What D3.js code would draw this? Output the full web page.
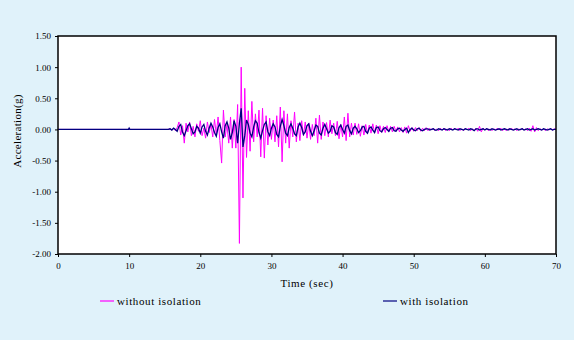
<!DOCTYPE html>
<html><head><meta charset="utf-8">
<script src="https://cdn.jsdelivr.net/npm/d3@7"></script>
<style>
html,body{margin:0;padding:0;background:#e0f2fa;}
svg{display:block;}
</style></head>
<body>
<svg id="chart" width="574" height="340"></svg>
<script>
// ---- data ----
const xTicks = [0, 10, 20, 30, 40, 50, 60, 70];
const yTicks = [1.5, 1.0, 0.5, 0.0, -0.5, -1.0, -1.5, -2.0];
const yTickLabels = ["1.50", "1.00", "0.50", "0.00", "-0.50", "-1.00", "-1.50", "-2.00"];
const seriesNames = ["without isolation", "with isolation"];

const leadTimes = [0, 9.9, 10.0, 10.1, 15.25];
const leadWithout = [0, 0, 0, 0, 0];
const leadWith = [0, 0, 0.02, 0, 0];

const sampleStart = 15.5, sampleStep = 0.25; // sampling grid of the record

const withoutIsolation = [
  0, 0.01, -0.01, 0.02, -0.02, 0.03,
  0.12, -0.09, 0.06, -0.22,
  0.1, -0.04, 0.12, -0.1,
  0.05, -0.12, 0.09, -0.03,
  0.14, -0.1, 0.02, -0.14,
  0.12, -0.05, 0.08, -0.12,
  0.16, -0.08, 0.2, -0.18,
  -0.54, 0.31, -0.12, 0.08,
  -0.22, 0.2, -0.3, 0.16,
  -0.3, 0.4, -1.83, 1.0,
  -1.1, 0.66, -0.45, 0.3,
  -0.35, 0.45, -0.2, 0.25,
  -0.12, 0.31, -0.44, 0.34,
  -0.46, 0.22, -0.25, 0.18,
  -0.16, 0.15, -0.2, 0.22,
  -0.28, 0.36, -0.52, 0.3,
  -0.22, 0.25, -0.3, 0.14,
  -0.12, 0.28, -0.2, 0.1,
  -0.18, 0.14, -0.1, 0.12,
  -0.14, 0.1, -0.16, 0.08,
  -0.1, 0.18, -0.22, 0.23,
  -0.16, 0.12, -0.1, 0.11,
  -0.12, 0.15, -0.07, 0.1,
  -0.1, 0.13, -0.15, 0.08,
  -0.12, 0.2, -0.18, 0.26,
  -0.12, 0.1, -0.09, 0.1,
  -0.08, 0.09, -0.11, 0.06,
  -0.09, 0.08, -0.07, 0.07,
  -0.06, 0.09, -0.06, 0.07,
  -0.07, 0.06, -0.05, 0.05,
  -0.05, 0.06, -0.04, 0.05,
  -0.04, 0.05, -0.03, 0.04,
  -0.04, 0.03, -0.05, 0.04,
  -0.06, 0.06, -0.03, 0.03,
  -0.03, 0.03, -0.02, 0.03,
  -0.03, 0.02, -0.02, 0.03,
  -0.02, 0.02, -0.01, 0.02,
  -0.02, 0.01, -0.02, 0.02,
  -0.01, 0.02, -0.02, 0.01,
  -0.02, 0.02, -0.01, 0.02,
  -0.01, 0.02, -0.02, 0.01,
  -0.02, 0.02, -0.01, 0.02,
  -0.02, 0.01, -0.02, 0.02,
  -0.03, 0.05, -0.04, 0.02,
  -0.01, 0.02, -0.02, 0.01,
  -0.02, 0.01, -0.01, 0.02,
  -0.01, 0.02, -0.02, 0.01,
  -0.02, 0.01, -0.01, 0.02,
  -0.01, 0.01, -0.02, 0.01,
  -0.01, 0.02, -0.01, 0.01,
  -0.02, 0.02, -0.03, 0.06,
  -0.04, 0.03, -0.02, 0.01,
  -0.01, 0.01, -0.02, 0.01,
  -0.01, 0.01, -0.01, 0.01,
  0
];

const withIsolation = [
  0.0, 0.01, -0.01, 0.02, 0.0, -0.03,
  0.05, 0.08, -0.04, -0.1,
  -0.02, 0.06, 0.09, 0.01,
  -0.07, -0.04, 0.05, 0.02,
  -0.06, 0.04, 0.08, -0.03,
  -0.09, 0.02, 0.1, 0.04,
  -0.05, -0.11, 0.03, 0.09,
  -0.04, -0.14, 0.06, 0.12,
  0.02, -0.16, -0.05, 0.14,
  0.05, -0.22, 0.1, 0.34,
  -0.28, -0.1, 0.15, 0.08,
  -0.06, -0.12, 0.04, 0.14,
  0.1, -0.05, -0.14, -0.02,
  0.08, 0.12, -0.04, -0.1,
  0.02, 0.09, 0.04, -0.08,
  -0.12, 0.05, 0.16, 0.06,
  -0.06, -0.1, 0.03, 0.09,
  0.02, -0.07, -0.1, 0.04,
  0.1, 0.03, -0.08, -0.04,
  0.06, 0.09, -0.03, -0.1,
  -0.02, 0.07, 0.05, -0.06,
  -0.09, 0.02, 0.08, 0.01,
  -0.06, -0.03, 0.06, 0.04,
  -0.05, -0.08, 0.03, 0.07,
  0.0, -0.06, 0.05, 0.07,
  -0.02, -0.07, 0.02, 0.05,
  0.01, -0.05, -0.02, 0.04,
  0.05, -0.03, -0.06, 0.02,
  0.04, -0.01, -0.05, 0.03,
  0.04, -0.02, -0.04, 0.01,
  0.03, 0.0, -0.03, 0.02,
  0.03, -0.02, -0.03, 0.01,
  0.02, -0.01, -0.03, 0.0,
  0.02, -0.05, 0.0, 0.02,
  -0.01, -0.02, 0.01, 0.02,
  -0.01, -0.02, 0.0, 0.01,
  0.01, -0.01, 0.0, 0.01,
  -0.01, -0.01, 0.01, 0.0,
  -0.01, 0.01, 0.0, -0.01,
  0.01, 0.0, -0.01, 0.01,
  0.0, -0.01, 0.01, 0.0,
  -0.01, 0.01, 0.0, -0.01,
  0.01, 0.0, -0.02, 0.01,
  0.01, -0.01, 0.0, 0.01,
  -0.01, 0.01, 0.0, -0.01,
  0.01, 0.0, -0.01, 0.0,
  0.01, -0.01, 0.0, 0.01,
  0.0, -0.01, 0.01, 0.0,
  -0.01, 0.0, 0.01, -0.01,
  0.0, 0.01, -0.01, 0.0,
  0.01, -0.01, 0.0, 0.01,
  -0.01, 0.0, 0.01, 0.0,
  -0.01, 0.01, 0.0, -0.01,
  0.0, 0.01, -0.01, 0.0,
  0
];

// ---- layout ----
const FONT = "'Liberation Serif', 'DejaVu Serif', serif";
const svg = d3.select("#chart");
const W = 574, H = 340;
const m = {left: 58, right: 18, top: 36, bottom: 86};
const pw = W - m.left - m.right, ph = H - m.top - m.bottom;

svg.append("rect").attr("width", W).attr("height", H).attr("fill", "#e0f2fa");

const x = d3.scaleLinear().domain([0, 70]).range([m.left, m.left + pw]);
const y = d3.scaleLinear().domain([-2.0, 1.5]).range([m.top + ph, m.top]);

svg.append("rect").attr("x", m.left).attr("y", m.top).attr("width", pw).attr("height", ph)
  .attr("fill", "#fff");

function build(lead, vals) {
  const pts = lead.map((v, i) => [leadTimes[i], v]);
  vals.forEach((v, i) => pts.push([sampleStart + i * sampleStep, v]));
  return pts;
}
const line = d3.line().x(d => x(d[0])).y(d => y(d[1]));
const colors = ["#ff00ff", "#000080"];

const g = svg.append("g");
g.append("path").datum(build(leadWithout, withoutIsolation))
  .attr("d", line).attr("fill", "none").attr("stroke", colors[0]).attr("stroke-width", 1);
g.append("path").datum(build(leadWith, withIsolation))
  .attr("d", line).attr("fill", "none").attr("stroke", colors[1]).attr("stroke-width", 1.3);

// frame
svg.append("rect").attr("x", m.left).attr("y", m.top).attr("width", pw).attr("height", ph)
  .attr("fill", "none").attr("stroke", "#000").attr("stroke-width", 1.5);

// y axis
const yAxis = d3.axisLeft(y).tickValues(yTicks).tickSize(3)
  .tickFormat((d, i) => yTickLabels[i]);
const ya = svg.append("g").attr("transform", `translate(${m.left},0)`).call(yAxis)
  .attr("font-family", FONT);
ya.select(".domain").remove();
ya.selectAll("text").attr("font-size", 9).attr("x", -7);

// x axis
const xAxis = d3.axisBottom(x).tickValues(xTicks).tickSize(3).tickFormat(d3.format("d"));
const xa = svg.append("g").attr("transform", `translate(0,${m.top + ph})`).call(xAxis)
  .attr("font-family", FONT);
xa.select(".domain").remove();
xa.selectAll("text").attr("font-size", 9).attr("y", 9);

// axis titles
svg.append("text").attr("x", 307).attr("y", 287).attr("text-anchor", "middle")
  .attr("font-family", FONT).attr("font-size", 11).attr("letter-spacing", 0.6)
  .text("Time (sec)");
svg.append("text").attr("transform", "translate(21,131) rotate(-90)")
  .attr("text-anchor", "middle").attr("font-family", FONT).attr("font-size", 11)
  .attr("letter-spacing", 0.3).text("Acceleration(g)");

// legend
const legX = [100, 383];
seriesNames.forEach((n, i) => {
  svg.append("line").attr("x1", legX[i]).attr("x2", legX[i] + 14)
    .attr("y1", 301).attr("y2", 301).attr("stroke", colors[i]).attr("stroke-width", 1.2);
  svg.append("text").attr("x", legX[i] + 17).attr("y", 304.5)
    .attr("font-family", FONT).attr("font-size", 11).attr("letter-spacing", 0.6).text(n);
});
</script>
</body></html>
